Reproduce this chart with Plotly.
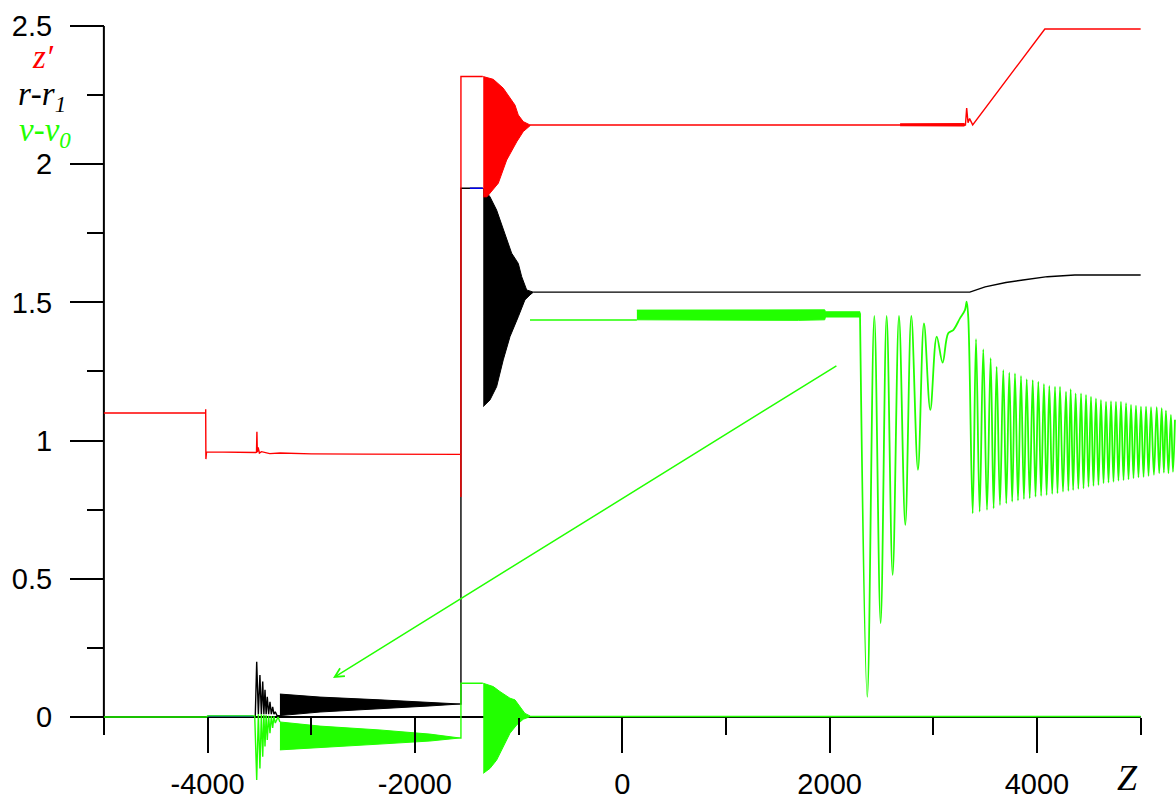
import plotly.graph_objects as go

# ---------------- axis ticks ----------------
X_MAJOR = [-4000, -2000, 0, 2000, 4000]
X_MINOR = [-5000, -3000, -1000, 1000, 3000, 5000]
Y_MAJOR = [0, 0.5, 1, 1.5, 2, 2.5]
Y_MINOR = [0.25, 0.75, 1.25, 1.75, 2.25]
X_LABELS = ["-4000", "-2000", "0", "2000", "4000"]
Y_LABELS = ["0", "0.5", "1", "1.5", "2", "2.5"]

# ---------------- red  z' ----------------
RED_X = [-5000, -4018, -4018, -4016, -4010, -3535, -3528, -3524, -3520, -3512, -3500,
         -3480, -3400, -3300, -3000, -2500, -1556, -1556, -1556, -1345]
RED_Y = [1.100, 1.100, 1.113, 0.933, 0.959, 0.957, 0.958, 1.032, 0.958, 0.975, 0.955,
         0.960, 0.953, 0.955, 0.952, 0.951, 0.950, 0.796, 2.317, 2.317]
RED_UP_X = [-1341, -1244, -1148, -1083, -1035, -1003, -955, -890]
RED_UP_Y = [2.317, 2.307, 2.275, 2.238, 2.214, 2.178, 2.154, 2.142]
RED_LO_X = [-1341, -1305, -1196, -1115, -1018, -955, -890]
RED_LO_Y = [1.882, 1.882, 1.931, 2.015, 2.081, 2.118, 2.139]
RED2_X = [-890, 2680, 3310, 3322, 3335, 3350, 3380, 4076, 5000]
RED2_Y = [2.142, 2.142, 2.142, 2.203, 2.150, 2.165, 2.142, 2.489, 2.489]
RED_NOISE_X = [2680, 3300]
RED_NOISE_UP = [2.146, 2.147]
RED_NOISE_LO = [2.139, 2.138]

# ---------------- black  r-r1 ----------------
BLK_X = [-5000, -3540, -3526, -3510, -3495, -3481, -3468, -3457, -3446, -3435, -3424,
         -3411, -3398, -3385, -3372, -3360, -3347, -3330, -3302]
BLK_Y = [0.0, 0.0, 0.200, 0.01, 0.152, 0.01, 0.128, 0.01, 0.098, 0.01, 0.073,
         0.01, 0.055, 0.01, 0.037, 0.01, 0.019, 0.005, 0.005]
BLKB_X = [-3302, -2915, -2337, -1855, -1566]
BLKB_UP = [0.083, 0.072, 0.062, 0.051, 0.047]
BLKB_LO = [0.005, 0.018, 0.029, 0.040, 0.047]
BLK_BOX_X = [-1566, -1556, -1556, -1345]
BLK_BOX_Y = [0.047, 0.047, 1.913, 1.913]
BLK_UP_X = [-1341, -1276, -1212, -1115, -1067, -1003, -970, -922, -858]
BLK_UP_Y = [1.913, 1.882, 1.834, 1.726, 1.678, 1.641, 1.593, 1.545, 1.537]
BLK_LO_X = [-1341, -1276, -1212, -1148, -1083, -1003, -939, -890, -858]
BLK_LO_Y = [1.123, 1.147, 1.195, 1.292, 1.376, 1.448, 1.509, 1.527, 1.537]
BLK3_X = [-858, 3352, 3500, 3700, 3865, 4100, 4365, 5000]
BLK3_Y = [1.537, 1.537, 1.556, 1.572, 1.581, 1.593, 1.599, 1.599]

# ---------------- blue ----------------
BLU_X = [-4000, -3560, None, -1470, -1345]
BLU_Y = [0.003, 0.003, None, 1.913, 1.913]

# ---------------- green  v-v0 ----------------
GRN_X = [-5000, -4010, -4000, -3545, -3526, -3510, -3495, -3481, -3468, -3457, -3446,
         -3435, -3424, -3411, -3398, -3385, -3372, -3360, -3347, -3320, -3302]
GRN_Y = [0.0, 0.0, 0.004, 0.004, -0.228, 0.01, -0.186, 0.01, -0.144, 0.008, -0.107,
         0.006, -0.083, 0.004, -0.059, 0.003, -0.040, 0.002, -0.022, 0.0, -0.018]
GRNB_X = [-3302, -2915, -2337, -1855, -1566]
GRNB_UP = [-0.018, -0.033, -0.047, -0.062, -0.076]
GRNB_LO = [-0.119, -0.109, -0.098, -0.087, -0.076]
GRN_BOX_X = [-1566, -1556, -1556, -1345]
GRN_BOX_Y = [-0.076, -0.076, 0.122, 0.122]
GRN_UP_X = [-1341, -1244, -1180, -1083, -1035, -987, -939, -890]
GRN_UP_Y = [0.122, 0.110, 0.092, 0.068, 0.062, 0.037, 0.013, 0.004]
GRN_LO_X = [-1341, -1276, -1212, -1148, -1083, -1019, -955, -890]
GRN_LO_Y = [-0.204, -0.186, -0.156, -0.107, -0.059, -0.029, -0.008, 0.001]
GRN0_X = [-890, 5000]
GRN0_Y = [0.002, 0.002]
GRN2_X = [-890, 141]
GRN2_Y = [1.436, 1.436]
GRNN_X = [141, 1700, 1953, 1960, 2293]
GRNN_UP = [1.472, 1.475, 1.473, 1.466, 1.466]
GRNN_LO = [1.437, 1.435, 1.437, 1.447, 1.447]
GRN3_X = [2293, 2363, 2431, 2492, 2550, 2608, 2669, 2730, 2788, 2852, 2910, 2971,
          3033, 3090, 3144, 3193, 3257, 3306, 3322, 3337, 3380]
GRN3_Y = [1.461, 0.073, 1.451, 0.339, 1.451, 0.514, 1.451, 0.695, 1.451, 0.894, 1.424, 1.111,
          1.376, 1.282, 1.388, 1.400, 1.442, 1.473, 1.503, 1.448, 0.737]
PK_X = [3412, 3482, 3553, 3611, 3675, 3733, 3788, 3846, 3901, 3959, 4013, 4067, 4119,
        4174, 4222, 4280, 4325, 4373, 4425, 4473, 4521, 4569, 4617, 4666, 4714, 4762,
        4810, 4859, 4907, 4955, 5003, 5052, 5100, 5155, 5203, 5244, 5292, 5331]
PK_Y = [1.367, 1.330, 1.298, 1.267, 1.255, 1.246, 1.243, 1.234, 1.222, 1.219, 1.213,
        1.205, 1.198, 1.195, 1.195, 1.177, 1.186, 1.171, 1.171, 1.165, 1.159, 1.153,
        1.147, 1.141, 1.143, 1.141, 1.141, 1.135, 1.129, 1.126, 1.123, 1.123, 1.121,
        1.121, 1.117, 1.108, 1.093, 1.075]
TR_X = [3447, 3518, 3582, 3643, 3704, 3761, 3817, 3874, 3930, 3986, 4040, 4093, 4147,
        4198, 4251, 4303, 4349, 4399, 4449, 4497, 4545, 4593, 4642, 4690, 4738, 4786,
        4835, 4883, 4931, 4979, 5028, 5076, 5128, 5179, 5224, 5268, 5312]
TR_Y = [0.743, 0.749, 0.755, 0.767, 0.773, 0.779, 0.783, 0.788, 0.791, 0.797, 0.800,
        0.803, 0.807, 0.809, 0.815, 0.818, 0.821, 0.825, 0.827, 0.833, 0.836, 0.839,
        0.846, 0.848, 0.851, 0.855, 0.857, 0.860, 0.864, 0.867, 0.869, 0.872, 0.876,
        0.882, 0.884, 0.882, 0.887]

# arrow (tail -> head)
ARROW_TAIL = (2080, 1.274)
ARROW_HEAD = (-2790, 0.141)

RED = "#ff0000"
BLACK = "#000000"
GREEN = "#22ff00"
BLUE = "#0000ff"

fig = go.Figure()


def line(x, y, color, width=1.4, shape="linear"):
    fig.add_trace(go.Scatter(x=x, y=y, mode="lines",
                             line=dict(color=color, width=width, shape=shape),
                             hoverinfo="skip", showlegend=False))


def band(ux, uy, lx, ly, color):
    xs = list(ux) + list(lx)[::-1]
    ys = list(uy) + list(ly)[::-1]
    fig.add_trace(go.Scatter(x=xs, y=ys, mode="lines", fill="toself",
                             fillcolor=color, line=dict(color=color, width=1),
                             hoverinfo="skip", showlegend=False))


# black
line(BLK_X, BLK_Y, BLACK)
band(BLKB_X, BLKB_UP, BLKB_X, BLKB_LO, BLACK)
line(BLK_BOX_X, BLK_BOX_Y, BLACK)
band(BLK_UP_X, BLK_UP_Y, BLK_LO_X, BLK_LO_Y, BLACK)
line(BLK3_X, BLK3_Y, BLACK)
# blue
line(BLU_X, BLU_Y, BLUE)
# red
line(RED_X, RED_Y, RED)
band(RED_UP_X, RED_UP_Y, RED_LO_X, RED_LO_Y, RED)
line(RED2_X, RED2_Y, RED)
band(RED_NOISE_X, RED_NOISE_UP, RED_NOISE_X, RED_NOISE_LO, RED)
# green
line(GRN_X, GRN_Y, GREEN)
band(GRNB_X, GRNB_UP, GRNB_X, GRNB_LO, GREEN)
line(GRN_BOX_X, GRN_BOX_Y, GREEN)
band(GRN_UP_X, GRN_UP_Y, GRN_LO_X, GRN_LO_Y, GREEN)
line(GRN0_X, GRN0_Y, GREEN)
line(GRN2_X, GRN2_Y, GREEN)
band(GRNN_X, GRNN_UP, GRNN_X, GRNN_LO, GREEN)
osc_x = list(GRN3_X)
osc_y = list(GRN3_Y)
for i in range(len(PK_X)):
    osc_x.append(PK_X[i]); osc_y.append(PK_Y[i])
    if i < len(TR_X):
        osc_x.append(TR_X[i]); osc_y.append(TR_Y[i])
line(osc_x, osc_y, GREEN, width=1.8, shape="spline")

# geometry of the original frame
W, H = 1176, 798
X_RANGE = [-6002, 5341]
Y_RANGE = [-0.2931, 2.594]
yax_pos = (X_MINOR[0] - X_RANGE[0]) / (X_RANGE[1] - X_RANGE[0])
xax_pos = (0 - Y_RANGE[0]) / (Y_RANGE[1] - Y_RANGE[0])

tick_font = dict(family="Liberation Sans, Arial, sans-serif", size=29, color="black")

fig.update_layout(
    width=W, height=H, autosize=False,
    margin=dict(l=0, r=0, t=0, b=0),
    paper_bgcolor="white", plot_bgcolor="white",
    xaxis=dict(range=X_RANGE, anchor="free", position=xax_pos, showgrid=False,
               zeroline=False, showline=False, tickmode="array", tickvals=X_MAJOR,
               ticktext=X_LABELS, ticks="outside", ticklen=35, tickwidth=2,
               tickcolor="black", tickfont=tick_font, ticklabelstandoff=6,
               minor=dict(tickmode="array", tickvals=X_MINOR, ticks="outside",
                          ticklen=17, tickwidth=2, tickcolor="black", showgrid=False),
               automargin=False),
    yaxis=dict(range=Y_RANGE, anchor="free", position=yax_pos, showgrid=False,
               zeroline=False, showline=False, tickmode="array", tickvals=Y_MAJOR,
               ticktext=Y_LABELS, ticks="outside", ticklen=34, tickwidth=2,
               tickcolor="black", tickfont=tick_font, ticklabelstandoff=12,
               minor=dict(tickmode="array", tickvals=Y_MINOR, ticks="outside",
                          ticklen=17, tickwidth=2, tickcolor="black", showgrid=False),
               automargin=False),
    shapes=[
        dict(type="line", xref="x", yref="y", x0=X_MINOR[0], x1=X_MINOR[-1], y0=0, y1=0,
             line=dict(color="black", width=2), layer="below"),
        dict(type="line", xref="x", yref="y", x0=X_MINOR[0], x1=X_MINOR[0],
             y0=Y_MAJOR[0], y1=Y_MAJOR[-1], line=dict(color="black", width=2), layer="below"),
    ],
)

serif = "Liberation Serif, Times New Roman, serif"
fig.add_annotation(x=ARROW_HEAD[0], y=ARROW_HEAD[1], ax=ARROW_TAIL[0], ay=ARROW_TAIL[1],
                   xref="x", yref="y", axref="x", ayref="y", text="", showarrow=True,
                   arrowhead=5, arrowsize=1.2, arrowwidth=1.5, arrowcolor=GREEN)
fig.add_annotation(x=43 / W, y=1 - 57 / H, xref="paper", yref="paper", text="<i>z′</i>",
                   showarrow=False, font=dict(family=serif, size=33, color=RED),
                   xanchor="center", yanchor="middle")
fig.add_annotation(x=42 / W, y=1 - 97 / H, xref="paper", yref="paper",
                   text="<i>r</i>-<i>r<sub>1</sub></i>",
                   showarrow=False, font=dict(family=serif, size=33, color=BLACK),
                   xanchor="center", yanchor="middle")
fig.add_annotation(x=45 / W, y=1 - 133 / H, xref="paper", yref="paper",
                   text="<i>v</i>-<i>v<sub>0</sub></i>",
                   showarrow=False, font=dict(family=serif, size=33, color=GREEN),
                   xanchor="center", yanchor="middle")
fig.add_annotation(x=1127 / W, y=1 - 778 / H, xref="paper", yref="paper", text="<i>Z</i>",
                   showarrow=False, font=dict(family=serif, size=36, color=BLACK),
                   xanchor="center", yanchor="middle")

fig.write_html("out.html", config={"displayModeBar": False, "staticPlot": True},
               post_script="document.body.style.margin='0';document.body.style.overflow='hidden';")
